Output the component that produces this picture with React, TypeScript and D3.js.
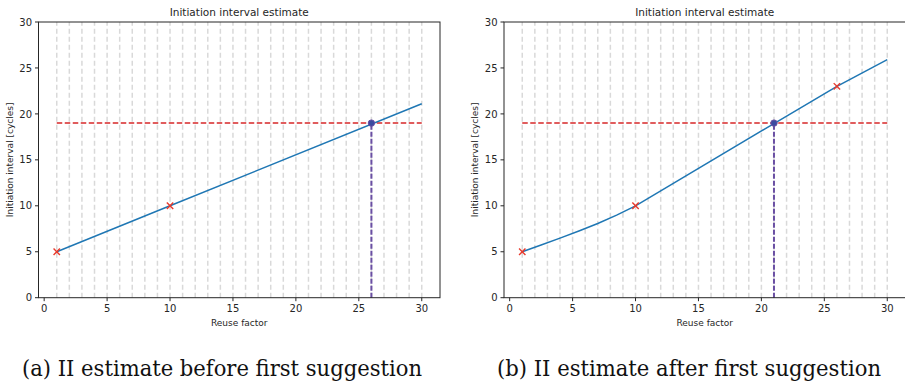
import React from "react";
import * as d3 from "d3";

const gridXs = d3.range(1, 31);
const xTicks = [0, 5, 10, 15, 20, 25, 30];
const yTicks = [0, 5, 10, 15, 20, 25, 30];

const lineA_x = [1, 10, 30];
const lineA_y = [5, 10, 21.1];
const markA_x = [1, 10];
const markA_y = [5, 10];
const targetA = 26;

const lineB_x = [1, 2.5, 4, 5.5, 7, 8.5, 10, 21, 26, 30];
const lineB_y = [5, 5.73, 6.48, 7.26, 8.08, 8.98, 10, 18.95, 23, 25.9];
const markB_x = [1, 10, 26];
const markB_y = [5, 10, 23];
const targetB = 21;

const threshold = 19;
const captions = ["(a) II estimate before first suggestion", "(b) II estimate after first suggestion"];

const SANS = "'DejaVu Sans', sans-serif";
const SERIF = "'DejaVu Serif', 'Liberation Serif', serif";

function Panel({ left, lx, ly, mx, my, target, caption, capX, capLen }: any) {
  const x = d3.scaleLinear().domain([-0.45, 31.45]).range([left, left + 401.5]);
  const y = d3.scaleLinear().domain([0, 30]).range([297.7, 22]);
  const pts = lx.map((v: number, i: number) => [v, ly[i]] as [number, number]);
  const line = d3.line<[number, number]>().x((d) => x(d[0])).y((d) => y(d[1]));
  const x0 = x.range()[0], x1 = x.range()[1];
  const y0 = y.range()[0], y1 = y.range()[1];
  const cx = (x0 + x1) / 2;
  return (
    <g>
      {gridXs.map((g) => (
        <line key={g} x1={x(g)} x2={x(g)} y1={y0} y2={y1} stroke="#d9d9d9" strokeWidth={1.5} strokeDasharray="5,3" />
      ))}
      <line x1={x(1)} x2={x(30)} y1={y(threshold)} y2={y(threshold)} stroke="#d62728" strokeWidth={1.5} strokeDasharray="5.5,2.5" />
      <line x1={x(target)} x2={x(target)} y1={y(0)} y2={y(threshold)} stroke="#6a4fa3" strokeWidth={2} strokeDasharray="5,2" />
      <path d={line(pts) || ""} fill="none" stroke="#1f77b4" strokeWidth={1.5} />
      {mx.map((v: number, i: number) => {
        const px = x(v), py = y(my[i]);
        return (
          <g key={i} stroke="#e8382b" strokeWidth={1.4}>
            <line x1={px - 3.2} x2={px + 3.2} y1={py - 3.2} y2={py + 3.2} />
            <line x1={px - 3.2} x2={px + 3.2} y1={py + 3.2} y2={py - 3.2} />
          </g>
        );
      })}
      <circle cx={x(target)} cy={y(threshold)} r={3.2} fill="#3b4aa0" stroke="#6a4fa3" strokeWidth={1} />
      <rect x={x0} y={y1} width={x1 - x0} height={y0 - y1} fill="none" stroke="#262626" strokeWidth={1} />
      {xTicks.map((t) => (
        <g key={t}>
          <line x1={x(t)} x2={x(t)} y1={y0} y2={y0 + 3.5} stroke="#262626" strokeWidth={1} />
          <text x={x(t)} y={y0 + 14.5} textAnchor="middle" fontSize={10} fontFamily={SANS} fill="#262626">{t}</text>
        </g>
      ))}
      {yTicks.map((t) => (
        <g key={t}>
          <line x1={x0 - 3.5} x2={x0} y1={y(t)} y2={y(t)} stroke="#262626" strokeWidth={1} />
          <text x={x0 - 6.5} y={y(t) + 3.6} textAnchor="end" fontSize={10} fontFamily={SANS} fill="#262626">{t}</text>
        </g>
      ))}
      <text x={cx} y={16} textAnchor="middle" fontSize={10.5} fontFamily={SANS} fill="#262626">Initiation interval estimate</text>
      <text x={cx} y={326} textAnchor="middle" fontSize={9} fontFamily={SANS} fill="#262626">Reuse factor</text>
      <text transform={`translate(${x0 - 26},${(y0 + y1) / 2}) rotate(-90)`} textAnchor="middle" fontSize={9} fontFamily={SANS} fill="#262626">Initiation interval [cycles]</text>
      <text x={capX} y={376} textAnchor="middle" fontSize={22} fontFamily={SERIF} fill="#111" textLength={capLen} lengthAdjust="spacingAndGlyphs">{caption}</text>
    </g>
  );
}

export default function App() {
  return (
    <svg width={905} height={383} style={{ position: "absolute", left: 0, top: 0, background: "#fff" }}>
      <rect width={905} height={383} fill="#fff" />
      <Panel left={38.5} lx={lineA_x} ly={lineA_y} mx={markA_x} my={markA_y} target={targetA} caption={captions[0]} capX={222} capLen={400} />
      <Panel left={504} lx={lineB_x} ly={lineB_y} mx={markB_x} my={markB_y} target={targetB} caption={captions[1]} capX={689} capLen={384} />
    </svg>
  );
}
